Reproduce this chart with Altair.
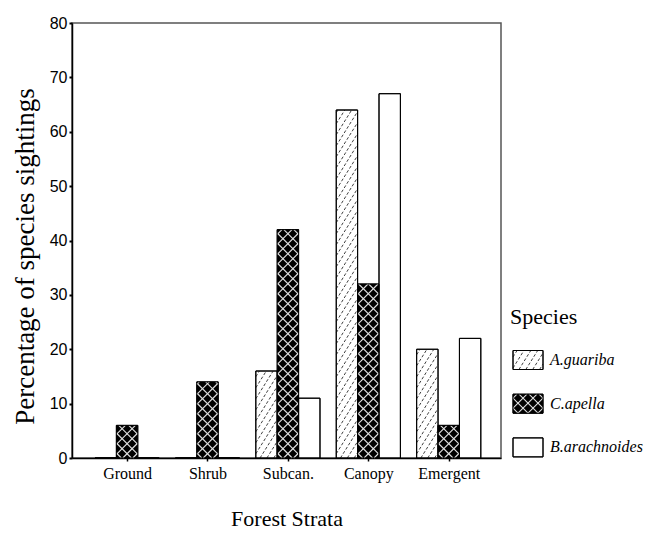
import json
import altair as alt
import pandas as pd

# ---------------- data ----------------
CATEGORIES = ["Ground", "Shrub", "Subcan.", "Canopy", "Emergent"]
SPECIES = ["A.guariba", "C.apella", "B.arachnoides"]
A_GUARIBA = [0, 0, 16, 64, 20]
C_APELLA = [6, 14, 42, 32, 6]
B_ARACHNOIDES = [0, 0, 11, 67, 22]
VALUES = {"A.guariba": A_GUARIBA, "C.apella": C_APELLA, "B.arachnoides": B_ARACHNOIDES}
Y_TICKS = list(range(0, 81, 10))

# ---------------- layout ----------------
WIDTH, HEIGHT = 429, 435
XMIN, XMAX = -0.685, 4.65
YMAX = 80
BAR_W = 0.266
PXX = WIDTH / (XMAX - XMIN)
PXY = HEIGHT / YMAX
SERIF = "Liberation Serif"
SANS = "Liberation Sans"

AG_SLOPE, AG_STEP = 1.6, 11
CA_STEP = 10
AG_COLOR = "#2a2a2a"


def hatch(x0, w, h, slope, step, sx, sy, yoff=0.0):
    """Lines Y = slope*X + c clipped to a w*h box (pixels); returned in data units."""
    segs = []
    if h <= 0:
        return segs
    k = abs(slope)
    if slope > 0:
        c = -k * w + (step / 2.0)
        while c < h:
            xa = max(0.0, -c / k)
            xb = min(w, (h - c) / k)
            if xb > xa:
                segs.append((x0 + xa / sx, yoff + (k * xa + c) / sy,
                             x0 + xb / sx, yoff + (k * xb + c) / sy))
            c += step
    else:
        c = step / 2.0
        while c < h + k * w:
            xa = max(0.0, (c - h) / k)
            xb = min(w, c / k)
            if xb > xa:
                segs.append((x0 + xa / sx, yoff + (c - k * xa) / sy,
                             x0 + xb / sx, yoff + (c - k * xb) / sy))
            c += step
    return segs


bars, ag_lines, ca_lines = [], [], []
for i, cat in enumerate(CATEGORIES):
    for j, sp in enumerate(SPECIES):
        v = VALUES[sp][i]
        x0 = i + (j - 1.5) * BAR_W
        bars.append({"species": sp, "category": cat, "x0": x0, "x1": x0 + BAR_W,
                     "v": v, "base": 0})
        w_px, h_px = BAR_W * PXX, v * PXY
        if sp == "A.guariba":
            for s in hatch(x0, w_px, h_px, AG_SLOPE, AG_STEP, PXX, PXY):
                ag_lines.append(dict(zip(["xa", "ya", "xb", "yb"], s)))
        elif sp == "C.apella":
            for sl in (1, -1):
                for s in hatch(x0, w_px, h_px, sl, CA_STEP, PXX, PXY):
                    ca_lines.append(dict(zip(["xa", "ya", "xb", "yb"], s)))

bars_df = pd.DataFrame(bars)
ag_df = pd.DataFrame(ag_lines)
ca_df = pd.DataFrame(ca_lines)

X_SCALE = alt.Scale(domain=[XMIN, XMAX], nice=False, zero=False)
Y_SCALE = alt.Scale(domain=[0, YMAX], nice=False)
FILL_SCALE = alt.Scale(domain=SPECIES, range=["white", "black", "white"])

label_expr = json.dumps(CATEGORIES) + "[datum.value]"

x_axis = alt.Axis(values=[0, 1, 2, 3, 4], labelExpr=label_expr, title="Forest Strata",
                  grid=False, labelFont=SERIF, labelFontSize=16, labelColor="black",
                  labelPadding=4, tickSize=3, tickWidth=1.5, tickColor="black",
                  domainColor="black", domainWidth=1.5, titleFont=SERIF,
                  titleFontSize=22, titleFontWeight="normal", titleColor="black",
                  titlePadding=27, labelOverlap=False)
y_axis = alt.Axis(values=Y_TICKS, title="Percentage of species sightings", grid=False,
                  labelFont=SANS, labelFontSize=16, labelColor="black", labelPadding=2,
                  tickSize=3, tickWidth=2, tickColor="black", domainColor="black",
                  domainWidth=1.5, titleFont=SERIF, titleFontSize=27,
                  titleFontWeight="normal", titleColor="black", titlePadding=10,
                  titleY=233)

bar_layer = alt.Chart(bars_df).mark_rect(stroke="black", strokeWidth=1).encode(
    x=alt.X("x0:Q", scale=X_SCALE, axis=x_axis),
    x2="x1:Q",
    y=alt.Y("v:Q", scale=Y_SCALE, axis=y_axis),
    y2="base:Q",
    fill=alt.Fill("species:N", scale=FILL_SCALE, legend=None),
)
ag_layer = alt.Chart(ag_df).mark_rule(color=AG_COLOR, strokeWidth=0.9, strokeDash=[3, 2]).encode(
    x=alt.X("xa:Q", scale=X_SCALE), x2="xb:Q",
    y=alt.Y("ya:Q", scale=Y_SCALE), y2="yb:Q")
ca_layer = alt.Chart(ca_df).mark_rule(color="#e0e0e0", strokeWidth=1.1).encode(
    x=alt.X("xa:Q", scale=X_SCALE), x2="xb:Q",
    y=alt.Y("ya:Q", scale=Y_SCALE), y2="yb:Q")
outline_layer = alt.Chart(bars_df).mark_rect(fillOpacity=0, stroke="black", strokeWidth=1).encode(
    x=alt.X("x0:Q", scale=X_SCALE), x2="x1:Q",
    y=alt.Y("v:Q", scale=Y_SCALE), y2="base:Q")

main = alt.layer(bar_layer, ag_layer, ca_layer, outline_layer)

# ---------------- legend (pixel-unit scales, drawn right of the plot) ----------------
LEG_SYM_X = 441
LEG_SYM_W = 30
LEG_SYM_H = 19
LEG_TEXT_X = 478
LEG_TOP_Y = 98       # centre of first item, measured upward from the baseline
LEG_STEP = 43.7
LEG_TITLE_Y = 141

leg_rows, leg_ag, leg_ca = [], [], []
for j, sp in enumerate(SPECIES):
    yc = LEG_TOP_Y - j * LEG_STEP
    y0 = yc - LEG_SYM_H / 2
    leg_rows.append({"species": sp, "x0": LEG_SYM_X, "x1": LEG_SYM_X + LEG_SYM_W,
                     "y0": y0, "y1": y0 + LEG_SYM_H, "yc": yc, "tx": LEG_TEXT_X})
    if sp == "A.guariba":
        for s in hatch(LEG_SYM_X, LEG_SYM_W, LEG_SYM_H, AG_SLOPE, AG_STEP, 1, 1, yoff=y0):
            leg_ag.append(dict(zip(["xa", "ya", "xb", "yb"], s)))
    elif sp == "C.apella":
        for sl in (1, -1):
            for s in hatch(LEG_SYM_X, LEG_SYM_W, LEG_SYM_H, sl, CA_STEP, 1, 1, yoff=y0):
                leg_ca.append(dict(zip(["xa", "ya", "xb", "yb"], s)))

leg_df = pd.DataFrame(leg_rows)
leg_ag_df = pd.DataFrame(leg_ag)
leg_ca_df = pd.DataFrame(leg_ca)
title_df = pd.DataFrame([{"label": "Species", "x": LEG_SYM_X - 3, "y": LEG_TITLE_Y}])

LX = alt.Scale(domain=[0, WIDTH], nice=False, zero=False)
LY = alt.Scale(domain=[0, HEIGHT], nice=False, zero=False)

leg_rect = alt.Chart(leg_df).mark_rect(stroke="black", strokeWidth=1).encode(
    x=alt.X("x0:Q", scale=LX, axis=None), x2="x1:Q",
    y=alt.Y("y0:Q", scale=LY, axis=None), y2="y1:Q",
    fill=alt.Fill("species:N", scale=FILL_SCALE, legend=None))
leg_ag_layer = alt.Chart(leg_ag_df).mark_rule(color=AG_COLOR, strokeWidth=0.9, strokeDash=[3, 2]).encode(
    x=alt.X("xa:Q", scale=LX, axis=None), x2="xb:Q",
    y=alt.Y("ya:Q", scale=LY, axis=None), y2="yb:Q")
leg_ca_layer = alt.Chart(leg_ca_df).mark_rule(color="#e0e0e0", strokeWidth=1.1).encode(
    x=alt.X("xa:Q", scale=LX, axis=None), x2="xb:Q",
    y=alt.Y("ya:Q", scale=LY, axis=None), y2="yb:Q")
leg_outline = alt.Chart(leg_df).mark_rect(fillOpacity=0, stroke="black", strokeWidth=1).encode(
    x=alt.X("x0:Q", scale=LX, axis=None), x2="x1:Q",
    y=alt.Y("y0:Q", scale=LY, axis=None), y2="y1:Q")
leg_text = alt.Chart(leg_df).mark_text(align="left", baseline="middle", font=SERIF,
                                       fontSize=16, fontStyle="italic", color="black").encode(
    x=alt.X("tx:Q", scale=LX, axis=None),
    y=alt.Y("yc:Q", scale=LY, axis=None),
    text="species:N")
leg_title = alt.Chart(title_df).mark_text(align="left", baseline="middle", font=SERIF,
                                          fontSize=22, color="black").encode(
    x=alt.X("x:Q", scale=LX, axis=None),
    y=alt.Y("y:Q", scale=LY, axis=None),
    text="label:N")

legend = alt.layer(leg_rect, leg_ag_layer, leg_ca_layer, leg_outline, leg_text, leg_title)

chart = alt.layer(main, legend).resolve_scale(x="independent", y="independent").properties(
    width=WIDTH, height=HEIGHT,
    padding={"left": 3, "top": 7, "right": 0, "bottom": 0},
    background="white",
).configure_view(stroke="#555", strokeWidth=1.5)

chart.save("out.html", embed_options={"renderer": "svg", "actions": False})
